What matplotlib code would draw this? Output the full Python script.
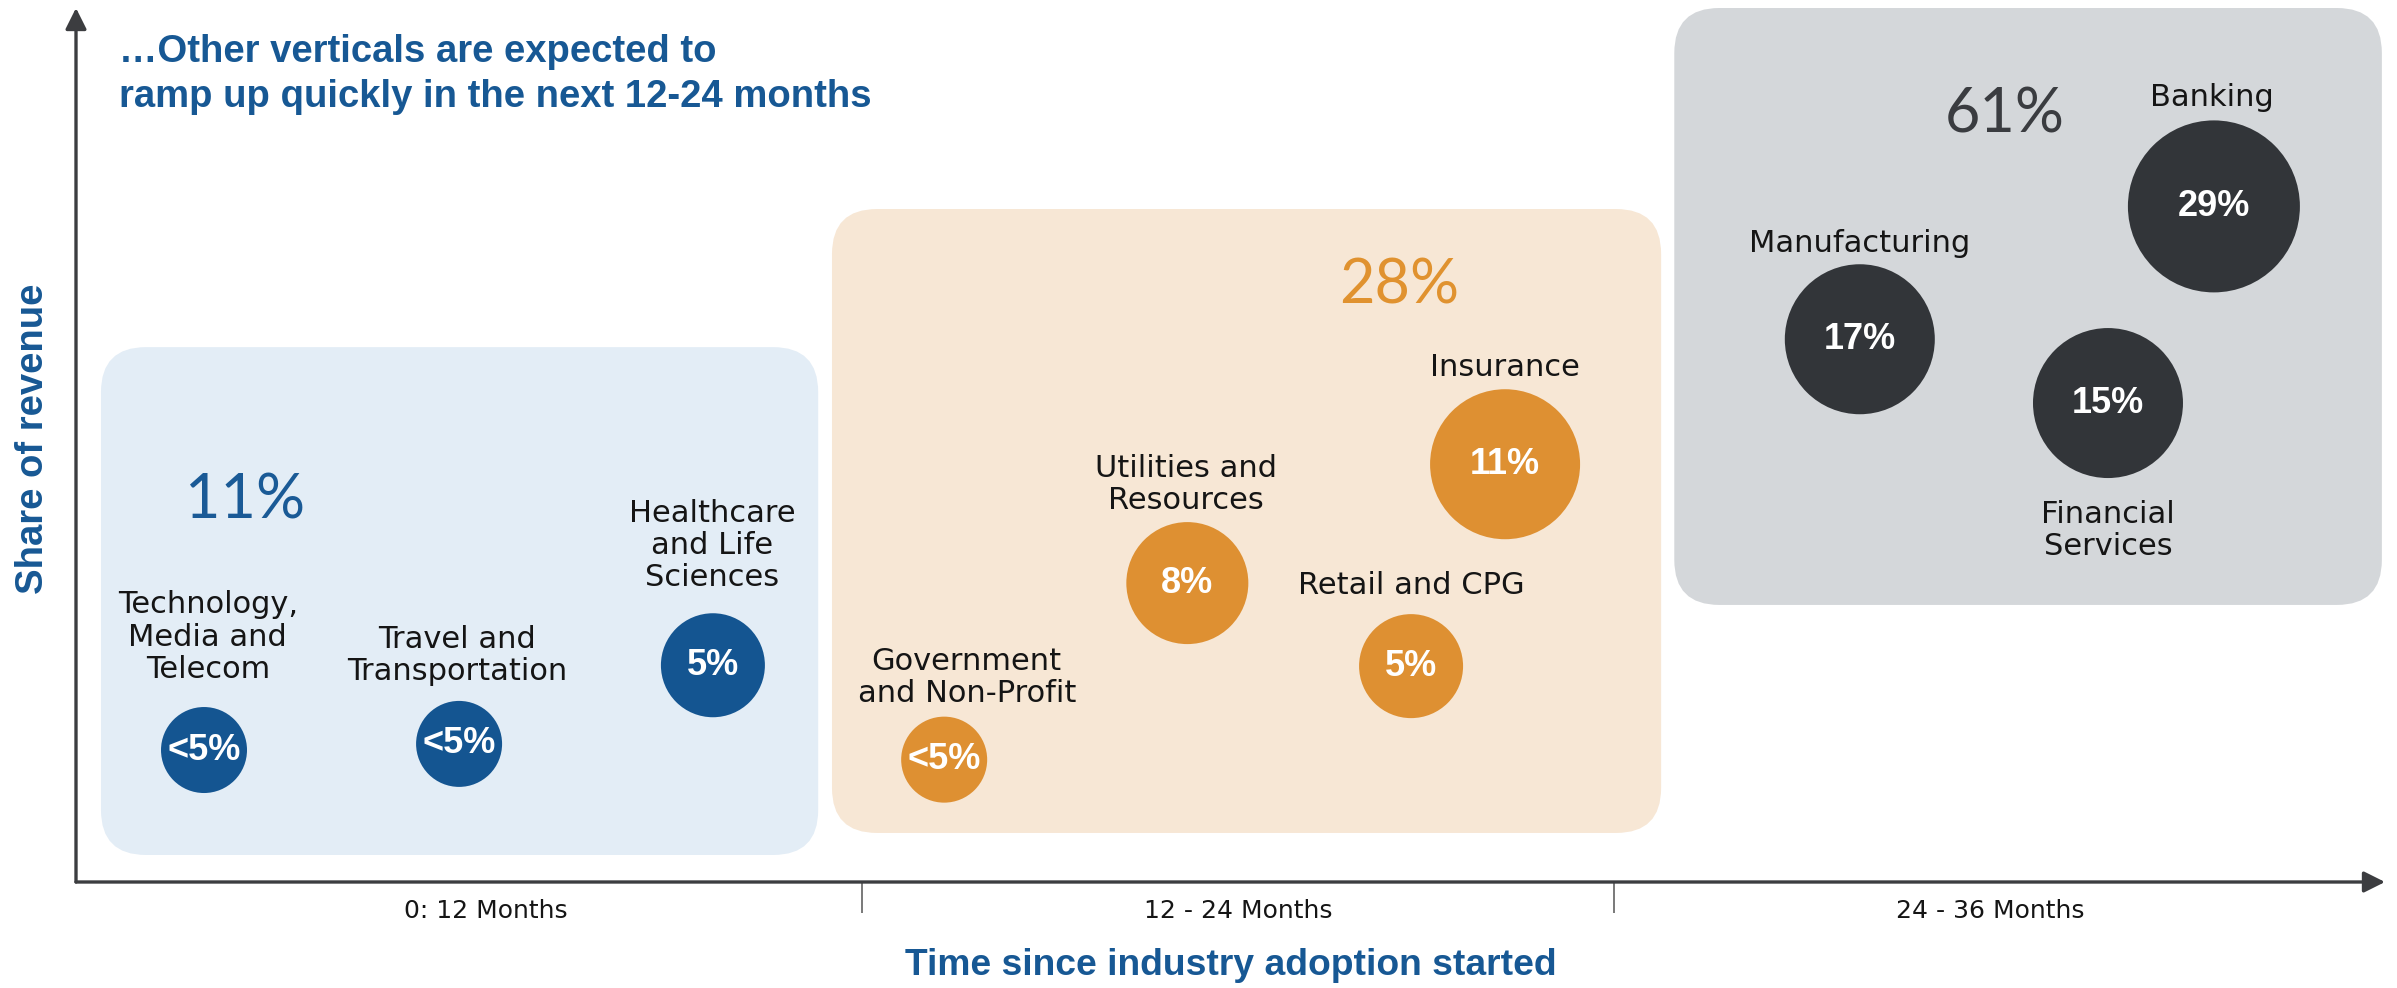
import matplotlib
matplotlib.use("Agg")
import matplotlib.pyplot as plt
from matplotlib.patches import FancyBboxPatch

# data
industries = ["Technology,\nMedia and\nTelecom", "Travel and\nTransportation",
              "Healthcare\nand Life\nSciences", "Government\nand Non-Profit",
              "Utilities and\nResources", "Retail and CPG", "Insurance",
              "Manufacturing", "Financial\nServices", "Banking"]
share_labels = ["<5%", "<5%", "5%", "<5%", "8%", "5%", "11%", "17%", "15%", "29%"]
months_since_start = [1.50, 5.57, 9.62, 13.31, 17.19, 20.76, 22.26, 27.92, 31.88, 33.57]
revenue_level = [15.1, 15.8, 24.8, 14.0, 34.2, 24.7, 47.8, 62.1, 54.8, 77.3]
phase = [0, 0, 0, 1, 1, 1, 1, 2, 2, 2]
phase_totals = ["11%", "28%", "61%"]
period_labels = ["0: 12 Months", "12 - 24 Months", "24 - 36 Months"]
period_centers = [6, 18, 30]
period_edges = [12, 24]

# layout / style
bubble_r_px = [43, 43, 52, 43, 61, 52, 75, 75, 75, 86]
label_xy = [(1.56, 28.0), (5.54, 25.9), (9.61, 38.5), (13.67, 23.4), (17.17, 45.5),
            (20.76, 33.9), (22.26, 58.9), (27.92, 73.1), (31.88, 40.2), (33.54, 89.8)]
total_xy = [(2.15, 43.6), (20.57, 68.2), (30.24, 87.8)]
boxes = [(-0.144, 3.09, 11.30, 61.2), (11.52, 5.61, 24.75, 77.0), (24.96, 31.7, 36.25, 100.0)]
bubble_col = ["#145591", "#de9032", "#323539"]
box_col = ["#e3edf6", "#f7e7d5", "#d4d7da"]
total_col = ["#1a5a96", "#e0922f", "#3a3c40"]
blue = "#175894"
axis_col = "#3c3d40"

fig = plt.figure(figsize=(23.97, 9.88), dpi=100)
ax = fig.add_axes([76 / 2397, 106 / 988, 2309 / 2397, 874 / 988])
ax.set_xlim(-0.5425, 36.30)
ax.set_ylim(0, 100)
for s in ax.spines.values():
    s.set_visible(False)

# rounded background boxes, corner radius ~45px
px_x = 2309 / (36.30 + 0.5425)
px_y = 874 / 100
rad = 45 / px_x
for (x0, y0, x1, y1), c in zip(boxes, box_col):
    ax.add_patch(FancyBboxPatch((x0, y0), x1 - x0, y1 - y0,
                                boxstyle=f"round,pad=0,rounding_size={rad}",
                                mutation_aspect=px_x / px_y,
                                fc=c, ec="none", zorder=0))

# bubbles
sizes = [(2 * r * 0.72) ** 2 for r in bubble_r_px]
ax.scatter(months_since_start, revenue_level, s=sizes,
           c=[bubble_col[p] for p in phase], linewidths=0, zorder=2)

for x, y, t in zip(months_since_start, revenue_level, share_labels):
    ax.text(x, y, t, ha="center", va="center", color="white", fontsize=26,
            fontweight="bold", family="Liberation Sans", zorder=3)

for (lx, ly), name in zip(label_xy, industries):
    ax.text(lx, ly, name, ha="center", va="center", color="#151515", fontsize=22,
            linespacing=1.15, family="DejaVu Sans", zorder=3)

for (tx, ty), t, c in zip(total_xy, phase_totals, total_col):
    ax.text(tx, ty, t, ha="center", va="center", color=c, fontsize=44,
            family=["Lato", "DejaVu Sans"], fontweight="normal", zorder=3)

# axes with arrow heads
ax.annotate("", xy=(0, 1), xytext=(0, 0), xycoords="axes fraction",
            arrowprops=dict(arrowstyle="-|>", mutation_scale=32, lw=2.4,
                            color=axis_col, shrinkA=0, shrinkB=0))
ax.annotate("", xy=(1, 0), xytext=(0, 0), xycoords="axes fraction",
            arrowprops=dict(arrowstyle="-|>", mutation_scale=32, lw=2.4,
                            color=axis_col, shrinkA=0, shrinkB=0))

ax.set_xticks(period_centers)
ax.set_xticklabels(period_labels, fontsize=18, color="#151515")
ax.tick_params(axis="x", which="major", length=0, pad=12)
ax.set_xticks(period_edges, minor=True)
ax.tick_params(axis="x", which="minor", length=22, width=1.1, color="#555555", direction="out")
ax.set_yticks([])

ax.set_xlabel("Time since industry adoption started", fontsize=26.8, fontweight="bold",
              color=blue, family="Liberation Sans")
ax.xaxis.set_label_coords(0.5, -0.096)
ax.xaxis.label.set_va("center")
ax.set_ylabel("Share of revenue", fontsize=27.5, fontweight="bold",
              color=blue, family="Liberation Sans")
ax.yaxis.set_label_coords(-0.0185, 0.507)
ax.yaxis.label.set_va("center")

fig.text(119 / 2397, 1 - 74.5 / 988, "…Other verticals are expected to\nramp up quickly in the next 12-24 months",
         ha="left", va="center", fontsize=27.5, fontweight="bold", color=blue,
         family="Liberation Sans", linespacing=1.3)

fig.savefig("out.png", dpi=100)
